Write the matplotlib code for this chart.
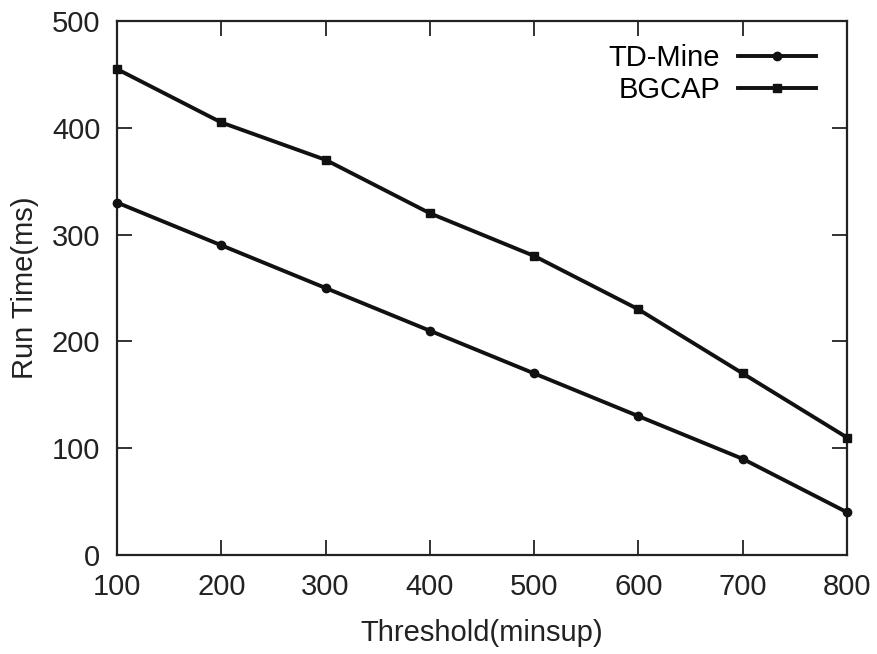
import matplotlib.pyplot as plt

plt.rcParams['font.family'] = ['Liberation Sans', 'DejaVu Sans']

threshold = [100, 200, 300, 400, 500, 600, 700, 800]
td_mine = [330, 290, 250, 210, 170, 130, 90, 40]
bgcap = [455, 405, 370, 320, 280, 230, 170, 110]

fig = plt.figure(figsize=(8.77, 6.54), dpi=100)
ax = fig.add_axes([0.1334, 0.1514, 0.8324, 0.8165])

ax.plot(threshold, td_mine, color='#111111', lw=2.8, marker='o', ms=6,
        label='TD-Mine', clip_on=False, zorder=3)
ax.plot(threshold, bgcap, color='#111111', lw=2.8, marker='s', ms=6,
        label='BGCAP', clip_on=False, zorder=3)

ax.set_xlim(100, 800)
ax.set_ylim(0, 500)
ax.set_xticks(threshold)
ax.set_yticks([0, 100, 200, 300, 400, 500])
ax.tick_params(direction='in', length=11, width=1.3, labelsize=21,
               top=True, right=True, colors='#222222')
ax.tick_params(axis='x', pad=13)
ax.tick_params(axis='y', pad=12)
for s in ax.spines.values():
    s.set_linewidth(1.6)
    s.set_color('#222222')

ax.set_xlabel('Threshold(minsup)', fontsize=21, color='#222222', labelpad=13)
ax.set_ylabel('Run Time(ms)', fontsize=21, color='#222222', labelpad=9)

ax.legend(loc='upper right', frameon=False, markerfirst=False, fontsize=21,
          handlelength=2.7, handletextpad=0.6, labelspacing=0.15,
          borderaxespad=0.0, bbox_to_anchor=(0.974, 0.979))

fig.savefig('out.png', dpi=100)
